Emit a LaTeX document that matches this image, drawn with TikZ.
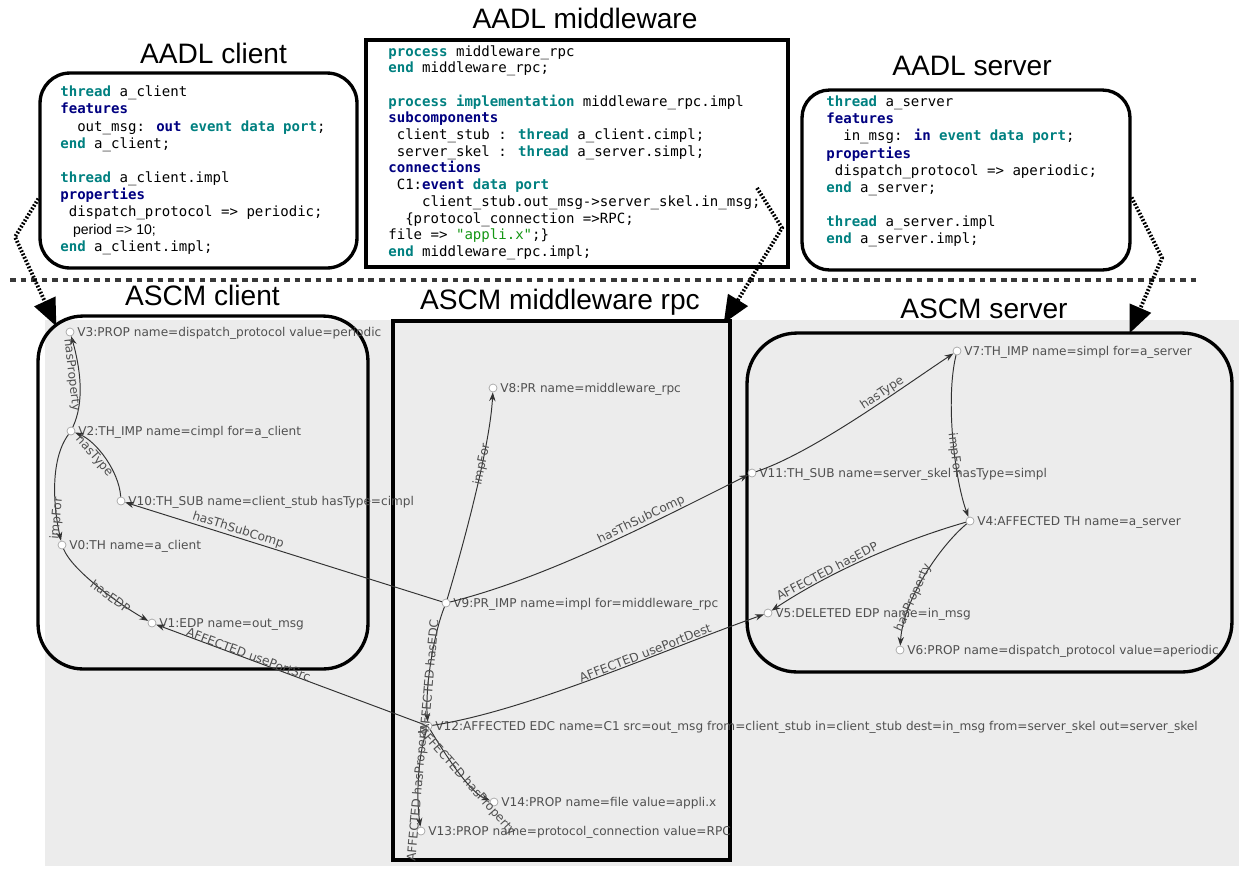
\documentclass[tikz,border=0pt]{standalone}
\usepackage{fontspec}
\setmainfont{Liberation Sans}
\newfontfamily\codefont{DejaVu Sans Mono}
\newfontfamily\graphfont{DejaVu Sans}
\usetikzlibrary{arrows.meta,positioning,calc}

\definecolor{kwteal}{RGB}{0,128,128}
\definecolor{kwnavy}{RGB}{0,0,128}
\definecolor{strgreen}{RGB}{20,150,20}
\definecolor{bggrey}{RGB}{236,236,236}
\definecolor{relgrey}{RGB}{50,50,50}
\definecolor{txtgrey}{RGB}{80,80,80}

\newcommand{\aadlkw}[1]{\textcolor{kwteal}{\bfseries #1}}
\newcommand{\aadlsec}[1]{\textcolor{kwnavy}{\bfseries #1}}

\begin{document}
\begin{tikzpicture}[
    x=0.02cm, y=-0.02cm,
    heading/.style={font=\fontsize{16}{19}\selectfont, anchor=base, inner sep=0pt},
    aadl/.style={draw, line width=1.9pt, inner sep=0pt},
    aadlcode/.style={font=\codefont\fontsize{8}{#1}\selectfont, inner sep=0pt, anchor=base west},
    ascm/.style={draw, line width=1.9pt, inner sep=0pt},
    vtx/.style={circle, draw=black!35, fill=white, line width=0.4pt, minimum size=0.16cm, inner sep=0pt},
    vtxlabel/.style={font=\graphfont\fontsize{6.9}{8}\selectfont, text=txtgrey, inner sep=1pt, text height=5pt, text depth=0pt},
    rel/.style={draw=relgrey, line width=0.55pt, -{Stealth[length=5pt, width=3.6pt]}},
    rellabel/.style={font=\graphfont\fontsize{6.9}{8}\selectfont, text=txtgrey, inner sep=0.5pt, sloped},
    uplabel/.style={font=\graphfont\fontsize{6.9}{8}\selectfont, text=txtgrey, inner sep=0.5pt, rotate=85},
    mapping/.style={line width=2.2pt, dash pattern=on 1pt off 1pt, -{Triangle[length=0.55cm, width=0.45cm]}},
    separator/.style={draw=black!78, line width=2pt, dash pattern=on 3.2pt off 2.8pt}
]
\useasboundingbox (0,0) rectangle (1239,870);

% Graph area and split line
\fill[bggrey] (45,320) rectangle (1239,866);
\draw[separator] (10,280) -- (1200,280);

% AADL side
\node[heading] (tclient) at (213.5,63) {AADL client};
\node[heading] (tmw) at (585,28) {AADL middleware};
\node[heading] (tserver) at (972,75) {AADL server};

\node[aadl, rounded corners=0.6cm, minimum width=6.34cm, minimum height=3.9cm] (aclient) at (198.5,170.5) {};
\node[aadl, minimum width=8.44cm, minimum height=4.54cm] (amw) at (577,153.5) {};
\node[aadl, rounded corners=0.55cm, minimum width=6.56cm, minimum height=3.6cm] (aserver) at (966,180) {};

\node[aadlcode=9.78pt] (cclient) at (60,96.7) {\begin{tabular}[t]{@{}l@{}}
\aadlkw{thread} a\_client\\
\aadlsec{features}\\
\ \ out\_msg: \aadlsec{out} \aadlkw{event data port};\\
\aadlkw{end} a\_client;\\
\\
\aadlkw{thread} a\_client.impl\\
\aadlsec{properties}\\
\ dispatch\_protocol => periodic;\\
{\rmfamily\hspace*{7.2pt}period => 10;}\\
\aadlkw{end} a\_client.impl;
\end{tabular}};

\node[aadlcode=9.51pt] (cmw) at (388,56) {\begin{tabular}[t]{@{}l@{}}
\aadlkw{process} middleware\_rpc\\
\aadlkw{end} middleware\_rpc;\\
\\
\aadlkw{process} \aadlkw{implementation} middleware\_rpc.impl\\
\aadlsec{subcomponents}\\
\ client\_stub : \aadlkw{thread} a\_client.cimpl;\\
\ server\_skel : \aadlkw{thread} a\_server.simpl;\\
\aadlsec{connections}\\
\ C1:\aadlsec{event} \aadlkw{data port}\\
\ \ \ \ client\_stub.out\_msg->server\_skel.in\_msg;\\
\ \ \{protocol\_connection =>RPC;\\
file => \textcolor{strgreen}{"appli.x"};\}\\
\aadlkw{end} middleware\_rpc.impl;
\end{tabular}};

\node[aadlcode=9.75pt] (cserver) at (826,106.7) {\begin{tabular}[t]{@{}l@{}}
\aadlkw{thread} a\_server\\
\aadlsec{features}\\
\ \ in\_msg: \aadlsec{in} \aadlkw{event data port};\\
\aadlsec{properties}\\
\ dispatch\_protocol => aperiodic;\\
\aadlkw{end} a\_server;\\
\\
\aadlkw{thread} a\_server.impl\\
\aadlkw{end} a\_server.impl;
\end{tabular}};

% ASCM side
\node[heading] (sclientt) at (202.5,305) {ASCM client};
\node[heading] (smwt) at (560,309) {ASCM middleware rpc};
\node[heading] (sservert) at (984,318) {ASCM server};

\node[ascm, rounded corners=0.9cm, minimum width=6.6cm, minimum height=7.06cm] (sclient) at (203,492.5) {};
\node[ascm, minimum width=6.74cm, minimum height=10.78cm] (smw) at (561.5,590.5) {};
\node[ascm, rounded corners=1cm, minimum width=9.7cm, minimum height=6.78cm] (sserver) at (989.5,502.5) {};

% Vertices
\node[vtx] (v0) at (62,545) {};
\node[vtx] (v1) at (152,623) {};
\node[vtx] (v2) at (71,431) {};
\node[vtx] (v3) at (70,332) {};
\node[vtx] (v4) at (970,521) {};
\node[vtx] (v5) at (768,613) {};
\node[vtx] (v6) at (900,650) {};
\node[vtx] (v7) at (957,351) {};
\node[vtx] (v8) at (493,388) {};
\node[vtx] (v9) at (446,603) {};
\node[vtx] (v10) at (121,501) {};
\node[vtx] (v11) at (752,473) {};
\node[vtx] (v12) at (428,726) {};
\node[vtx] (v13) at (421,831) {};
\node[vtx] (v14) at (494,802) {};

\node[vtxlabel, right=0.5pt of v0] (l0) {V0:TH name=a\_client};
\node[vtxlabel, right=0.5pt of v1] (l1) {V1:EDP name=out\_msg};
\node[vtxlabel, right=0.5pt of v2] (l2) {V2:TH\_IMP name=cimpl for=a\_client};
\node[vtxlabel, right=0.5pt of v3] (l3) {V3:PROP name=dispatch\_protocol value=periodic};
\node[vtxlabel, right=0.5pt of v4] (l4) {V4:AFFECTED TH name=a\_server};
\node[vtxlabel, right=0.5pt of v5] (l5) {V5:DELETED EDP name=in\_msg};
\node[vtxlabel, right=0.5pt of v6] (l6) {V6:PROP name=dispatch\_protocol value=aperiodic};
\node[vtxlabel, right=0.5pt of v7] (l7) {V7:TH\_IMP name=simpl for=a\_server};
\node[vtxlabel, right=0.5pt of v8] (l8) {V8:PR name=middleware\_rpc};
\node[vtxlabel, right=0.5pt of v9] (l9) {V9:PR\_IMP name=impl for=middleware\_rpc};
\node[vtxlabel, right=0.5pt of v10] (l10) {V10:TH\_SUB name=client\_stub hasType=cimpl};
\node[vtxlabel, right=0.5pt of v11] (l11) {V11:TH\_SUB name=server\_skel hasType=simpl};
\node[vtxlabel, right=0.5pt of v12] (l12) {V12:AFFECTED EDC name=C1 src=out\_msg from=client\_stub in=client\_stub dest=in\_msg from=server\_skel out=server\_skel};
\node[vtxlabel, right=0.5pt of v13] (l13) {V13:PROP name=protocol\_connection value=RPC};
\node[vtxlabel, right=0.5pt of v14] (l14) {V14:PROP name=file value=appli.x};

% Relations
\draw[rel] (v2) .. controls +(14,-30) and +(10,35) .. node[rellabel, pos=.6, below] (r1) {hasProperty} (v3);
\draw[rel] (v2) .. controls +(-22,30) and +(-8,-35) .. node[uplabel, pos=.78] (r2) {impFor} (v0);
\draw[rel] (v10) .. controls +(-2,-30) and +(25,10) .. node[rellabel, pos=.6, below] (r3) {hasType} (v2);
\draw[rel] (v9) -- node[rellabel, pos=.65, above] (r4) {hasThSubComp} (v10);
\draw[rel] (v0) .. controls +(10,25) and +(-35,-20) .. node[rellabel, pos=.63] (r5) {hasEDP} (v1);
\draw[rel] (v12) -- node[rellabel, pos=.66, above=-1pt] (r6) {AFFECTED usePortSrc} (v1);
\draw[rel] (v9) .. controls +(15,-50) and +(-3,60) .. node[rellabel, pos=.65] (r7) {impFor} (v8);
\draw[rel] (v9) .. controls +(100,-25) and +(-100,50) .. node[rellabel, pos=.65, above] (r8) {hasThSubComp} (v11);
\draw[rel] (v11) .. controls +(60,-20) and +(-60,40) .. node[rellabel, pos=.65, above] (r9) {hasType} (v7);
\draw[rel] (v7) .. controls +(-12,50) and +(-15,-40) .. node[rellabel, pos=.58] (r10) {impFor} (v4);
\draw[rel] (v4) .. controls +(-70,20) and +(60,-40) .. node[rellabel, pos=.68, above] (r11) {AFFECTED hasEDP} (v5);
\draw[rel] (v4) .. controls +(-30,25) and +(3,-50) .. node[rellabel, pos=.66] (r12) {hasProperty} (v6);
\draw[rel] (v12) .. controls +(100,-15) and +(-100,35) .. node[rellabel, pos=.64, above] (r13) {AFFECTED usePortDest} (v5);
\draw[rel] (v9) .. controls +(-12,30) and +(-3,-40) .. node[uplabel, pos=.62] (r14) {AFFECTED hasEDC} (v12);
\draw[rel] (v12) .. controls +(-10,30) and +(-5,-35) .. node[uplabel, pos=.65] (r15) {AFFECTED hasProperty} (v13);
\draw[rel] (v12) .. controls +(15,25) and +(-25,-10) .. node[rellabel, pos=.65] (r16) {AFFECTED hasProperty} (v14);

% Mapping arrows
\coordinate (mwlink) at (757,188);
\draw[mapping] (aclient.190) -- (15,237) -- ($(sclient.north west)+(20,12)$);
\draw[mapping] (mwlink) -- (782,228) -- ($(smw.north east)+(-8,4)$);
\draw[mapping] (aserver.-6) -- (1162,258) -- ($(sserver.north)+(140,2)$);

\end{tikzpicture}
\end{document}
